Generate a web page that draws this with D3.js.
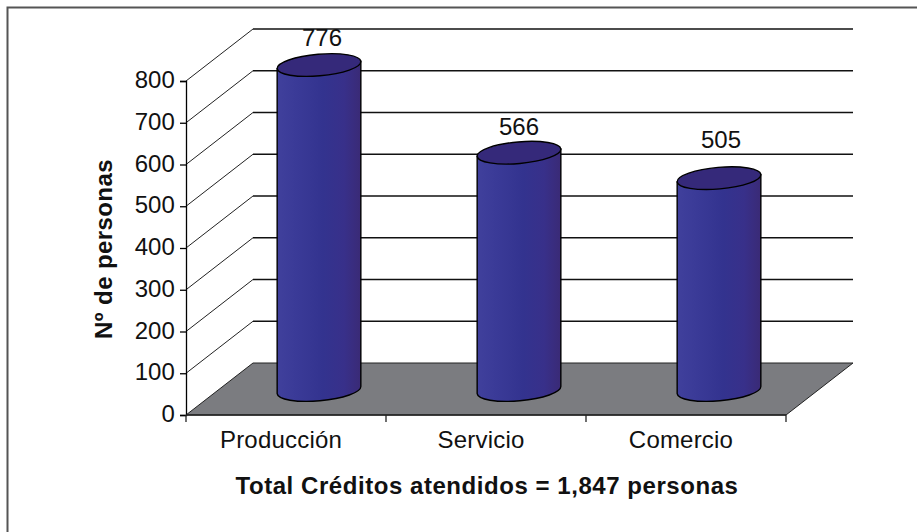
<!DOCTYPE html>
<html><head><meta charset="utf-8">
<script src="https://cdn.jsdelivr.net/npm/d3@7"></script>
<style>html,body{margin:0;padding:0;background:#fff}svg{display:block}text{font-family:"Liberation Sans",Arial,sans-serif;fill:#111}</style>
</head><body><svg id="c" width="917" height="532"></svg>
<script>
const categories = ["Producción","Servicio","Comercio"];
const values = [776,566,505];
const yTicks = [0,100,200,300,400,500,600,700,800];
const yTitle = "Nº de personas";
const xTitle = "Total Créditos atendidos = 1,847 personas";

const svg = d3.select("#c");
const x0=186,x1=786,y0=415,y1=81,dx=67,dy=52;
const x = d3.scaleBand().domain(categories).range([x0,x1]);
const y = d3.scaleLinear().domain([0,800]).range([y0,y1]);

const defs = svg.append("defs");
const g = defs.append("linearGradient").attr("id","cyl");
[[0,"#40409c"],[0.2,"#3b3b98"],[0.55,"#33338f"],[0.8,"#38308a"],[1,"#3a2a76"]].forEach(s=>g.append("stop").attr("offset",s[0]).attr("stop-color",s[1]));

// frame: only left and top edges
svg.append("path").attr("d","M7.5,532V7.5H917").attr("fill","none").attr("stroke","#555").attr("stroke-width",2);

// floor
svg.append("path").attr("d",d3.line()([[x0,y0],[x0+dx,y0-dy],[x1+dx,y0-dy],[x1,y0]])+"Z").attr("fill","#7b7c80").attr("stroke","#222").attr("stroke-width",1);

// grid
yTicks.slice(1).forEach(t=>{
  svg.append("path").attr("d",d3.line()([[x0,y(t)],[x0+dx,y(t)-dy]])).attr("fill","none").attr("stroke","#222").attr("stroke-width",1);
  svg.append("path").attr("d",d3.line()([[x0+dx,y(t)-dy],[x1+dx,y(t)-dy]])).attr("fill","none").attr("stroke","#111").attr("stroke-width",1.4);
});

// axes
const ax = svg.append("g").attr("transform",`translate(${x0},0)`).call(d3.axisLeft(y).tickValues(yTicks).tickSizeOuter(0).tickSize(6).tickPadding(5).tickFormat(d3.format("d")));
ax.selectAll("path,line").attr("stroke","#000").attr("stroke-width",1.3);
ax.selectAll("text").attr("font-size",24).attr("dy","0.28em").style("letter-spacing","0.1px");
const bx = svg.append("g").attr("transform",`translate(0,${y0})`);
bx.append("line").attr("x1",x0).attr("x2",x1).attr("stroke","#222").attr("stroke-width",1.3);
[...categories.map(c=>x(c)),x1].forEach(p=>bx.append("line").attr("x1",p).attr("x2",p).attr("y1",0).attr("y2",7).attr("stroke","#222").attr("stroke-width",1.3));
categories.forEach(c=>bx.append("text").attr("x",x(c)+x.bandwidth()/2-5).attr("y",33).attr("text-anchor","middle").attr("font-size",24).style("letter-spacing","0.2px").text(c));

// cylinders
const rx=42, ry=10.8, rot=-5, ox=dx/2-0.5, oy=dy/2;
const labelNudge=[[3,-19.5],[0,-17.5],[2,-30.5]];
categories.forEach((c,i)=>{
  const cx=x(c)+x.bandwidth()/2+ox, by=y0-oy+1, ty=y(values[i])-oy;
  const t=rot*Math.PI/180, ex=rx*Math.cos(t), ey=rx*Math.sin(t);
  const body=`M${cx-ex},${ty-ey} L${cx-ex},${by-ey} A${rx},${ry} ${rot} 0 0 ${cx+ex},${by+ey} L${cx+ex},${ty+ey} Z`;
  svg.append("path").attr("d",body).attr("fill","url(#cyl)").attr("stroke","#000").attr("stroke-width",1.4);
  svg.append("ellipse").attr("cx",0).attr("cy",0).attr("rx",rx).attr("ry",ry).attr("transform",`translate(${cx},${ty}) rotate(${rot})`).attr("fill","#35297a").attr("stroke","#000").attr("stroke-width",1.4);
  svg.append("text").attr("x",cx+labelNudge[i][0]).attr("y",ty+labelNudge[i][1]).attr("text-anchor","middle").attr("font-size",24).text(values[i]);
});

svg.append("text").attr("x",487).attr("y",494).attr("text-anchor","middle").attr("font-size",24).attr("font-weight","bold").style("letter-spacing","0.55px").text(xTitle);
svg.append("text").attr("transform","translate(112,249) rotate(-90)").attr("text-anchor","middle").attr("font-size",24).attr("font-weight","bold").style("letter-spacing","0.4px").text(yTitle);
</script></body></html>
